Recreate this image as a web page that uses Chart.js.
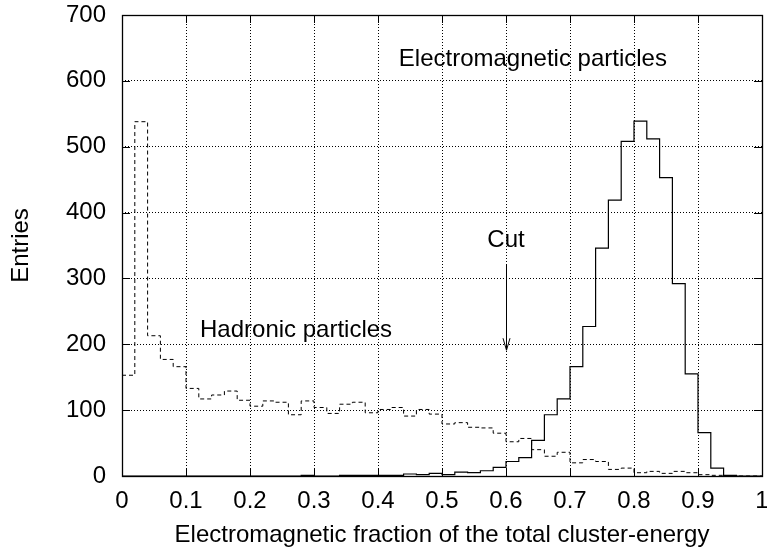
<!DOCTYPE html>
<html><head><meta charset="utf-8">
<script src="https://cdn.jsdelivr.net/npm/chart.js@4.4.1/dist/chart.umd.min.js"></script>
<style>html,body{margin:0;padding:0;background:#fff}#wrap{width:767px;height:553px}</style>
</head><body><div id="wrap"><canvas id="c" width="767" height="553"></canvas></div>
<script>
// Lower bin edges (bin width 0.02) plus the closing edge at 1.0
const binEdges = [0.00,0.02,0.04,0.06,0.08,0.10,0.12,0.14,0.16,0.18,
                  0.20,0.22,0.24,0.26,0.28,0.30,0.32,0.34,0.36,0.38,
                  0.40,0.42,0.44,0.46,0.48,0.50,0.52,0.54,0.56,0.58,
                  0.60,0.62,0.64,0.66,0.68,0.70,0.72,0.74,0.76,0.78,
                  0.80,0.82,0.84,0.86,0.88,0.90,0.92,0.94,0.96,0.98,1.00];
const hadronic = [153,538,213,177,166,133,117,123,129,115,
                  106,114,112,93,114,104,95,109,112,96,
                  101,104,91,101,94,79,81,74,73,65,
                  52,57,40,30,36,20,25,22,10,12,
                  5,7,4,7,5,2,1,0,0,0];
const electromagnetic = [0,0,0,0,0,0,0,0,0,0,
                  0,0,0,0,1,0,0,1,1,1,
                  1,1,3,2,4,2,6,5,8,13,
                  22,28,54,93,117,166,227,346,419,508,
                  539,512,453,292,155,66,12,1,0,0];
const xTickValues = [0,0.1,0.2,0.3,0.4,0.5,0.6,0.7,0.8,0.9,1];
const xTickLabels = ['0','0.1','0.2','0.3','0.4','0.5','0.6','0.7','0.8','0.9','1'];
const yTickValues = [0,100,200,300,400,500,600,700];
const xTitle = 'Electromagnetic fraction of the total cluster-energy';
const yTitle = 'Entries';
const annotations = [
  {text:'Electromagnetic particles', x:0.642, y:632},
  {text:'Hadronic particles', x:0.272, y:221},
  {text:'Cut', x:0.6, y:358}
];
const cutArrow = {x:0.6, yFrom:321, yTo:191};

const FONT = 'Liberation Sans, Arial, Helvetica, sans-serif';
const FS = 24;

function histPoints(values){
  return binEdges.map((x,i)=>({x:x, y: i < values.length ? values[i] : 0}));
}

const framePlugin = {
  id:'frame',
  afterDatasetsDraw(chart){
    const ctx = chart.ctx, a = chart.chartArea;
    const xs = chart.scales.x, ys = chart.scales.y;
    ctx.save();
    ctx.strokeStyle = '#000';
    ctx.lineWidth = 1;
    const tl = 8;
    ctx.beginPath();
    xTickValues.forEach(v=>{
      const px = Math.round(xs.getPixelForValue(v)) + 0.5;
      ctx.moveTo(px, a.bottom); ctx.lineTo(px, a.bottom - tl);
      ctx.moveTo(px, a.top); ctx.lineTo(px, a.top + tl);
    });
    yTickValues.forEach(v=>{
      const py = Math.round(ys.getPixelForValue(v)) + 0.5;
      ctx.moveTo(a.left, py); ctx.lineTo(a.left + tl, py);
      ctx.moveTo(a.right, py); ctx.lineTo(a.right - tl, py);
    });
    ctx.stroke();
    ctx.lineWidth = 1.3;
    ctx.strokeRect(Math.round(a.left)+0.5, Math.round(a.top)+0.5, Math.round(a.right-a.left), Math.round(a.bottom-a.top));
    ctx.fillStyle = '#000';
    ctx.font = FS + 'px ' + FONT;
    ctx.textAlign = 'center';
    ctx.textBaseline = 'middle';
    annotations.forEach(t=>{
      ctx.fillText(t.text, xs.getPixelForValue(t.x), ys.getPixelForValue(t.y));
    });
    const ax = Math.round(xs.getPixelForValue(cutArrow.x)) + 0.5;
    const y1 = ys.getPixelForValue(cutArrow.yFrom), y2 = ys.getPixelForValue(cutArrow.yTo);
    ctx.lineWidth = 1;
    ctx.beginPath();
    ctx.moveTo(ax, y1); ctx.lineTo(ax, y2);
    ctx.moveTo(ax - 3.5, y2 - 12); ctx.lineTo(ax, y2); ctx.lineTo(ax + 3.5, y2 - 12);
    ctx.stroke();
    ctx.restore();
  }
};

new Chart(document.getElementById('c'), {
  type:'line',
  data:{
    datasets:[
      {label:'Hadronic particles', data:histPoints(hadronic), stepped:true, borderColor:'#000', borderWidth:1, borderDash:[4,3], pointRadius:0, fill:false},
      {label:'Electromagnetic particles', data:histPoints(electromagnetic), stepped:true, borderColor:'#000', borderWidth:1.2, pointRadius:0, fill:false}
    ]
  },
  options:{
    responsive:false, animation:false, devicePixelRatio:1,
    layout:{autoPadding:false, padding:{left:0, right:5, top:15, bottom:0}},
    plugins:{legend:{display:false}, tooltip:{enabled:false}},
    scales:{
      x:{
        type:'linear', min:0, max:1,
        afterBuildTicks:s=>{ s.ticks = xTickValues.map(v=>({value:v})); },
        afterFit:s=>{ s.height = 77; s.paddingLeft = 0; s.paddingRight = 0; s.paddingTop = 0; s.paddingBottom = 0; },
        ticks:{ callback:(v)=>{ const i = xTickValues.indexOf(v); return i>=0 ? xTickLabels[i] : ''; },
                font:{family:FONT, size:FS}, color:'#000', padding:10.5, maxRotation:0, autoSkip:false },
        grid:{ color:'#000', lineWidth:1, drawTicks:false },
        border:{ display:false, dash:[1,2] },
        title:{ display:true, text:xTitle, font:{family:FONT, size:FS}, color:'#000', padding:{top:0,bottom:3.6} }
      },
      y:{
        type:'linear', min:0, max:700,
        afterBuildTicks:s=>{ s.ticks = yTickValues.map(v=>({value:v})); },
        afterFit:s=>{ s.width = 122; s.paddingLeft = 0; s.paddingRight = 0; s.paddingTop = 0; s.paddingBottom = 0; },
        ticks:{ font:{family:FONT, size:FS}, color:'#000', padding:16 },
        grid:{ color:'#000', lineWidth:1, drawTicks:false },
        border:{ display:false, dash:[1,2] },
        title:{ display:true, text:yTitle, font:{family:FONT, size:FS}, color:'#000', padding:{top:6.5,bottom:0} }
      }
    }
  },
  plugins:[framePlugin]
});
</script>
</body></html>
